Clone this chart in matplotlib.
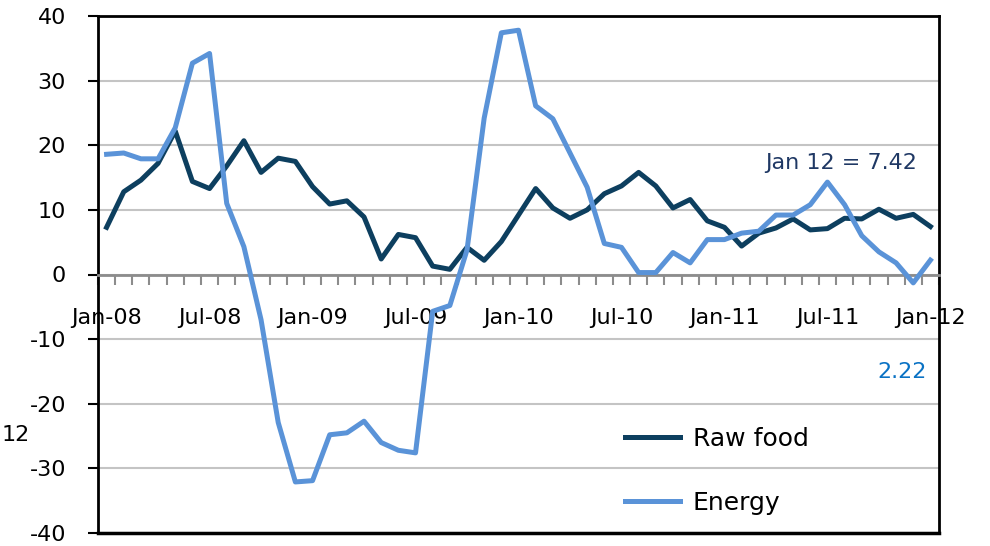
import numpy as np
import matplotlib
matplotlib.use('Agg')
import matplotlib.pyplot as plt

plt.rcParams['axes.unicode_minus'] = False

# monthly y/y change, Jan-08 .. Jan-12
raw_food = [7.3, 12.8, 14.6, 17.2, 22.2, 14.4, 13.3, 16.8, 20.7, 15.8, 18.0, 17.5,
            13.6, 10.9, 11.4, 8.9, 2.4, 6.2, 5.7, 1.3, 0.8, 4.2, 2.2, 5.1,
            9.2, 13.3, 10.3, 8.7, 10.0, 12.5, 13.7, 15.8, 13.7, 10.3, 11.6, 8.3,
            7.3, 4.4, 6.4, 7.2, 8.6, 6.9, 7.1, 8.7, 8.6, 10.1, 8.7, 9.3, 7.42]
energy = [18.6, 18.8, 17.9, 17.9, 22.7, 32.7, 34.2, 11.0, 4.3, -7.0, -22.9, -32.1,
          -31.9, -24.8, -24.5, -22.7, -26.0, -27.2, -27.6, -5.7, -4.8, 3.8, 24.2, 37.4,
          37.8, 26.1, 24.1, 18.8, 13.5, 4.8, 4.2, 0.3, 0.3, 3.4, 1.8, 5.4,
          5.4, 6.4, 6.7, 9.2, 9.2, 10.8, 14.3, 10.8, 6.0, 3.5, 1.8, -1.3, 2.22]
tick_pos = [0, 6, 12, 18, 24, 30, 36, 42, 48]
tick_labels = ['Jan-08', 'Jul-08', 'Jan-09', 'Jul-09', 'Jan-10', 'Jul-10',
               'Jan-11', 'Jul-11', 'Jan-12']

fig = plt.figure(figsize=(9.9, 5.46), dpi=100)
ax = fig.add_axes([98/990, 1-533/546, (939-98)/990, (533-16)/546])

x = np.arange(len(raw_food))
ax.plot(x, raw_food, color='#0d3f5f', lw=3.6, label='Raw food', zorder=3)
ax.plot(x, energy, color='#5a93d8', lw=3.6, label='Energy', zorder=3)

ax.set_xlim(-0.5, len(raw_food)-0.5)
ax.set_ylim(-40, 40)
ax.set_yticks(np.arange(-40, 41, 10))
ax.yaxis.grid(True, color='#c4c4c4', lw=1.5)
ax.set_axisbelow(True)

for s in ['left', 'top', 'right']:
    ax.spines[s].set_color('black')
    ax.spines[s].set_linewidth(2)
ax.spines['bottom'].set_position(('data', 0))
ax.spines['bottom'].set_color('#8c8c8c')
ax.spines['bottom'].set_linewidth(2)
ax.axhline(-40, color='black', lw=2.5, clip_on=False, zorder=5)

ax.set_xticks(tick_pos)
ax.set_xticklabels(tick_labels)
ax.set_xticks(np.arange(-0.5, len(raw_food), 1), minor=True)
ax.tick_params(axis='x', which='major', length=0, pad=24, labelsize=16)
ax.tick_params(axis='x', which='minor', length=7, width=1.5, color='#8c8c8c', direction='out')
ax.tick_params(axis='y', length=7, width=1.5, color='black', pad=16, labelsize=16)

ax.text(0.974, 0.716, 'Jan 12 = 7.42', transform=ax.transAxes, color='#1f3864',
        fontsize=16, ha='right', va='center')
ax.text(0.986, 0.311, '2.22', transform=ax.transAxes, color='#0a72c4',
        fontsize=16, ha='right', va='center')
fig.text(2/990, 1-435/546, '12', fontsize=16, ha='left', va='center')

ax.legend(loc='upper left', bbox_to_anchor=(0.627, 0.205), frameon=False,
          fontsize=18, handlelength=2.2, handletextpad=0.5, labelspacing=1.6,
          borderpad=0, borderaxespad=0)

fig.savefig('out.png', dpi=100)
